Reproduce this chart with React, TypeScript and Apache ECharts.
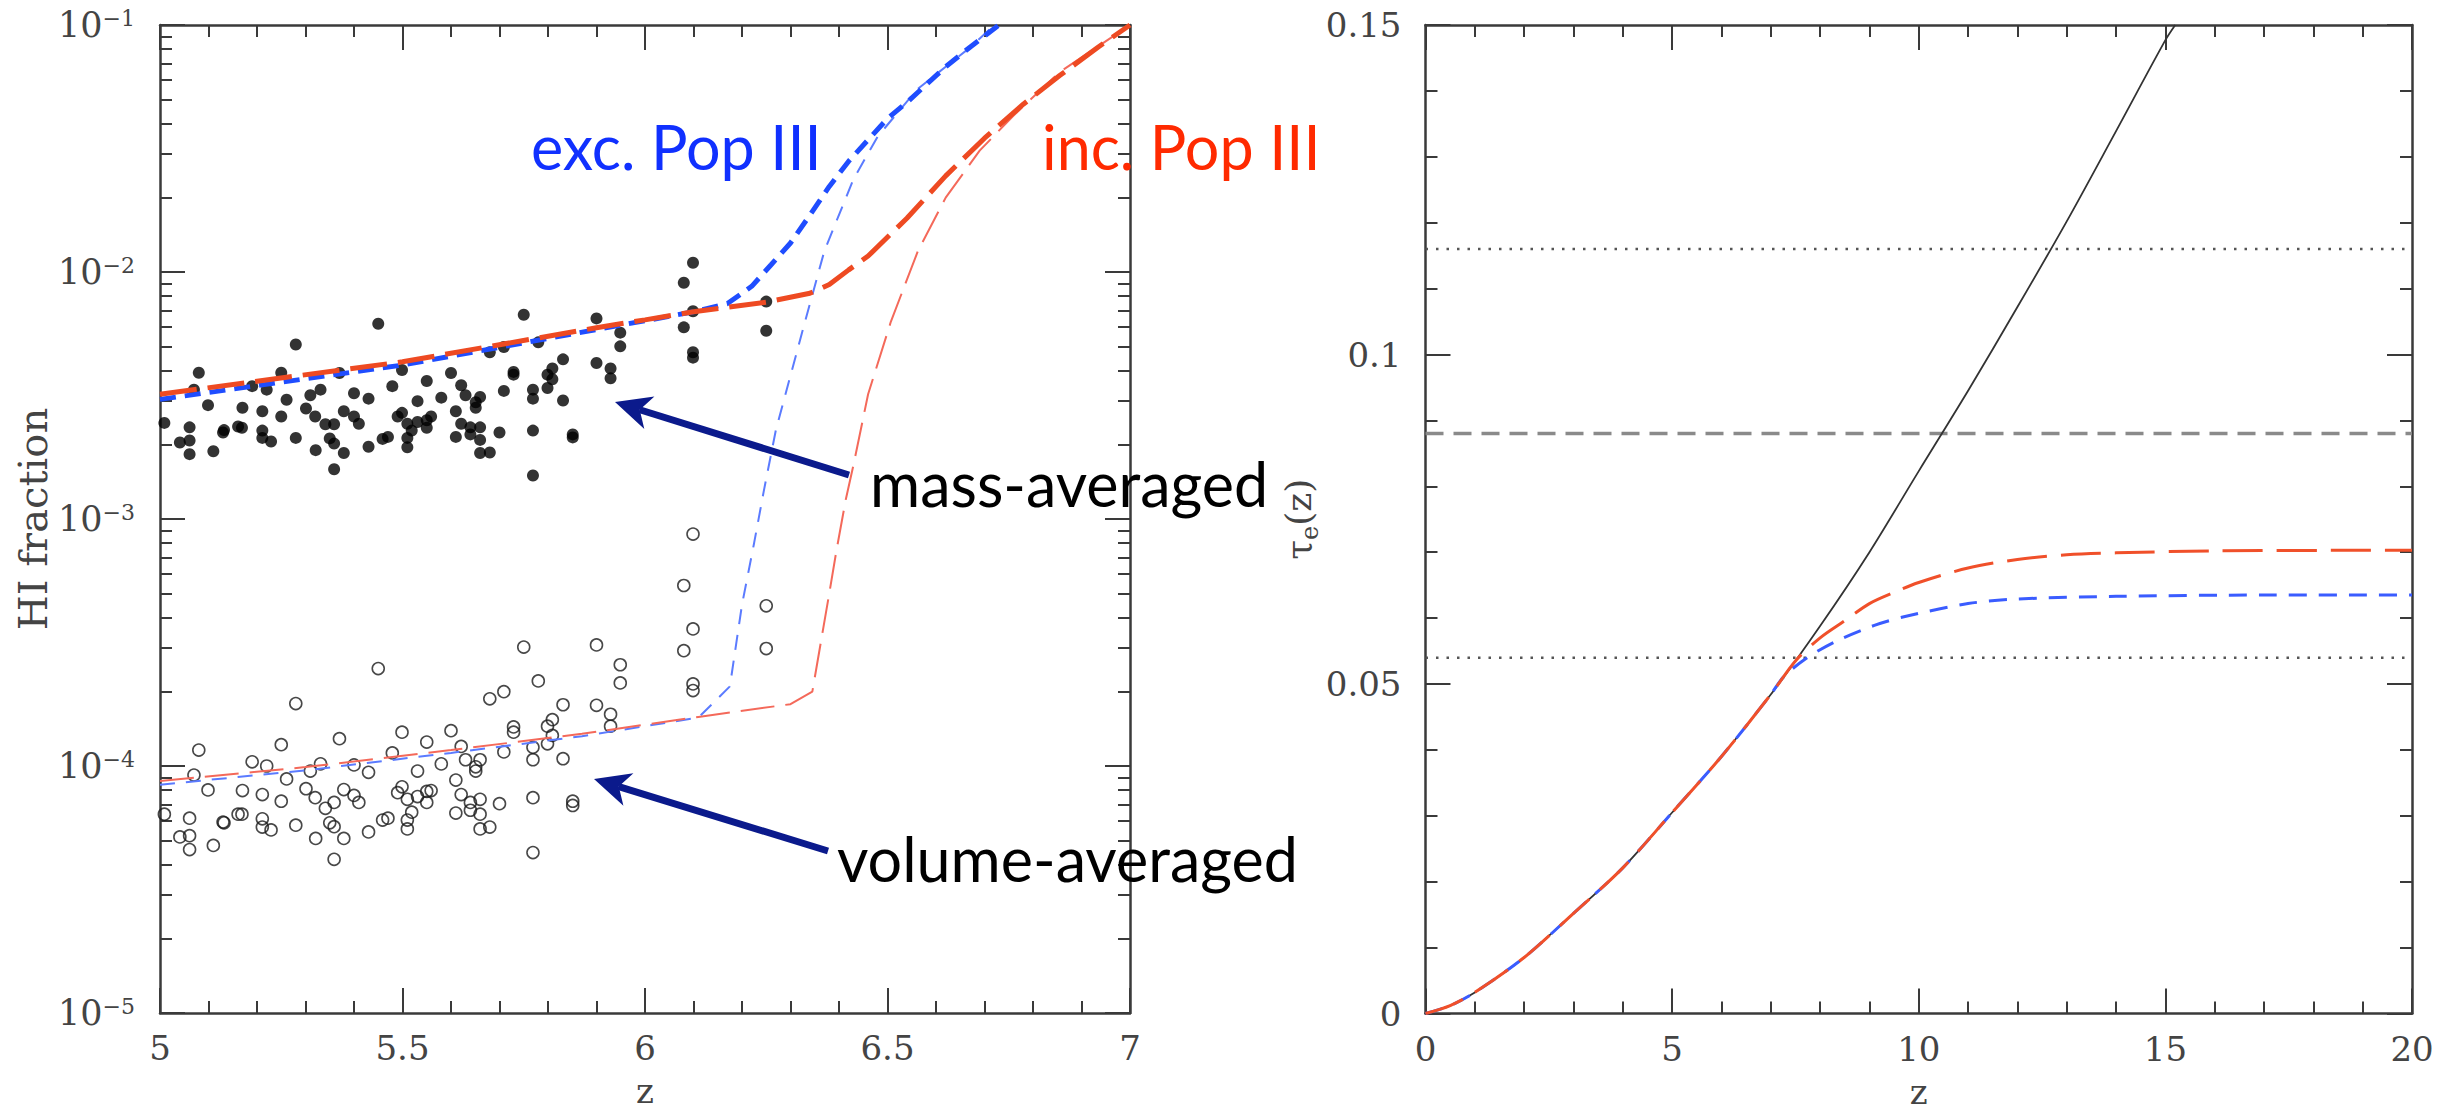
import React, { useEffect, useRef } from "react";
import * as echarts from "echarts";

// ---------------- Left panel: HI fraction vs z ----------------
const zSample = [
  5.009, 5.041, 5.061, 5.061, 5.061, 5.07, 5.08, 5.099, 5.11, 5.13,
  5.132, 5.161, 5.169, 5.17, 5.19, 5.211, 5.211, 5.211, 5.22, 5.229,
  5.25, 5.25, 5.261, 5.28, 5.28, 5.301, 5.31, 5.32, 5.321, 5.331,
  5.341, 5.35, 5.359, 5.359, 5.359, 5.37, 5.379, 5.379, 5.4, 5.4,
  5.41, 5.43, 5.43, 5.45, 5.459, 5.47, 5.479, 5.49, 5.499, 5.499,
  5.51, 5.51, 5.51, 5.519, 5.531, 5.531, 5.55, 5.55, 5.55, 5.559,
  5.58, 5.6, 5.61, 5.61, 5.621, 5.621, 5.63, 5.64, 5.64, 5.651,
  5.651, 5.66, 5.66, 5.66, 5.66, 5.68, 5.68, 5.7, 5.709, 5.709,
  5.729, 5.729, 5.75, 5.769, 5.769, 5.769, 5.769, 5.78, 5.799, 5.799,
  5.809, 5.809, 5.831, 5.831, 5.851, 5.851, 5.9, 5.9, 5.929, 5.929,
  5.949, 5.949, 6.08, 6.08, 6.099, 6.099, 6.099, 6.099, 6.25, 6.25,
];

const hiMassAvg = [
  2.45e-3, 2.04e-3, 2.35e-3, 2.08e-3, 1.83e-3, 3.34e-3, 3.91e-3, 2.89e-3, 1.88e-3, 2.24e-3,
  2.29e-3, 2.37e-3, 2.34e-3, 2.82e-3, 3.45e-3, 2.73e-3, 2.28e-3, 2.13e-3, 3.34e-3, 2.06e-3,
  3.91e-3, 2.6e-3, 3.04e-3, 5.09e-3, 2.13e-3, 2.8e-3, 3.17e-3, 2.6e-3, 1.9e-3, 3.34e-3,
  2.42e-3, 2.12e-3, 2.42e-3, 2.02e-3, 1.59e-3, 3.9e-3, 2.73e-3, 1.85e-3, 3.23e-3, 2.6e-3,
  2.43e-3, 3.07e-3, 1.96e-3, 6.17e-3, 2.11e-3, 2.15e-3, 3.45e-3, 2.6e-3, 4.01e-3, 2.69e-3,
  2.43e-3, 2.13e-3, 1.95e-3, 2.28e-3, 3.0e-3, 2.47e-3, 3.62e-3, 2.51e-3, 2.34e-3, 2.6e-3,
  3.1e-3, 3.9e-3, 2.73e-3, 2.15e-3, 3.48e-3, 2.43e-3, 3.17e-3, 2.35e-3, 2.2e-3, 2.97e-3,
  2.82e-3, 3.12e-3, 2.35e-3, 2.09e-3, 1.85e-3, 4.73e-3, 1.86e-3, 2.24e-3, 4.97e-3, 3.3e-3,
  3.94e-3, 3.84e-3, 6.71e-3, 3.34e-3, 3.07e-3, 2.28e-3, 1.5e-3, 5.19e-3, 3.84e-3, 3.39e-3,
  4.07e-3, 3.68e-3, 4.43e-3, 3.02e-3, 2.2e-3, 2.14e-3, 6.49e-3, 4.28e-3, 4.07e-3, 3.71e-3,
  5.68e-3, 5.0e-3, 9.05e-3, 5.97e-3, 1.09e-2, 6.94e-3, 4.73e-3, 4.5e-3, 7.59e-3, 5.78e-3,
];

const hiVolAvg = [
  6.38e-5, 5.16e-5, 6.15e-5, 5.22e-5, 4.59e-5, 9.19e-5, 1.16e-4, 8.0e-5, 4.77e-5, 5.93e-5,
  5.89e-5, 6.38e-5, 6.38e-5, 7.95e-5, 1.04e-4, 7.66e-5, 6.11e-5, 5.66e-5, 1.0e-4, 5.51e-5,
  1.22e-4, 7.2e-5, 8.86e-5, 1.79e-4, 5.76e-5, 8.09e-5, 9.54e-5, 7.44e-5, 5.09e-5, 1.02e-4,
  6.74e-5, 5.89e-5, 7.12e-5, 5.68e-5, 4.19e-5, 1.29e-4, 8.03e-5, 5.09e-5, 1.01e-4, 7.6e-5,
  7.12e-5, 9.43e-5, 5.41e-5, 2.48e-4, 6.04e-5, 6.15e-5, 1.13e-4, 7.8e-5, 1.37e-4, 8.24e-5,
  7.33e-5, 6.04e-5, 5.56e-5, 6.5e-5, 9.54e-5, 7.52e-5, 1.25e-4, 7.89e-5, 7.12e-5, 7.95e-5,
  1.02e-4, 1.39e-4, 8.77e-5, 6.45e-5, 1.2e-4, 7.66e-5, 1.06e-4, 7.12e-5, 6.62e-5, 9.92e-5,
  9.54e-5, 1.06e-4, 7.33e-5, 6.38e-5, 5.56e-5, 1.87e-4, 5.66e-5, 7.04e-5, 2.0e-4, 1.14e-4,
  1.44e-4, 1.37e-4, 3.03e-4, 1.19e-4, 1.06e-4, 7.44e-5, 4.46e-5, 2.21e-4, 1.45e-4, 1.23e-4,
  1.54e-4, 1.33e-4, 1.77e-4, 1.07e-4, 7.2e-5, 6.92e-5, 3.09e-4, 1.76e-4, 1.62e-4, 1.45e-4,
  2.57e-4, 2.17e-4, 5.38e-4, 2.93e-4, 8.69e-4, 3.59e-4, 2.15e-4, 2.02e-4, 4.45e-4, 2.99e-4,
];

// mass-averaged model, excluding Pop III (thick blue)
const massExcZ = [5.0, 5.5, 5.9, 6.0, 6.1, 6.17, 6.22, 6.26, 6.3, 6.34, 6.38, 6.42, 6.46, 6.5, 6.54, 6.58, 6.62, 6.67, 6.73];
const massExcHI = [3.05e-3, 4.2e-3, 5.85e-3, 6.35e-3, 6.9e-3, 7.45e-3, 8.75e-3, 1.07e-2, 1.31e-2, 1.7e-2, 2.22e-2, 2.81e-2, 3.43e-2, 4.18e-2, 4.86e-2, 5.74e-2, 6.78e-2, 8.13e-2, 0.1];
// mass-averaged model, including Pop III (thick red)
const massIncZ = [5.0, 5.5, 5.9, 6.0, 6.1, 6.25, 6.34, 6.38, 6.42, 6.46, 6.54, 6.62, 6.7, 6.78, 6.855, 6.934, 7.0];
const massIncHI = [3.2e-3, 4.33e-3, 5.95e-3, 6.4e-3, 6.9e-3, 7.55e-3, 8.2e-3, 8.9e-3, 1.02e-2, 1.16e-2, 1.65e-2, 2.45e-2, 3.48e-2, 4.78e-2, 6.24e-2, 8.13e-2, 0.1];
// volume-averaged model, excluding Pop III (thin blue)
const volExcZ = [5.0, 5.3, 5.6, 5.87, 6.11, 6.175, 6.2, 6.225, 6.245, 6.27, 6.33, 6.37, 6.43, 6.48, 6.56, 6.62, 6.67, 6.72];
const volExcHI = [8.4e-5, 9.6e-5, 1.13e-4, 1.32e-4, 1.57e-4, 2.1e-4, 4.5e-4, 8.0e-4, 1.3e-3, 2.3e-3, 6.3e-3, 1.22e-2, 2.38e-2, 3.54e-2, 5.46e-2, 6.78e-2, 8.1e-2, 0.1];
// volume-averaged model, including Pop III (thin red)
const volIncZ = [5.0, 5.3, 5.6, 5.87, 6.11, 6.3, 6.345, 6.378, 6.395, 6.414, 6.43, 6.46, 6.507, 6.563, 6.62, 6.69, 6.76, 6.855, 7.0];
const volIncHI = [8.7e-5, 9.9e-5, 1.16e-4, 1.35e-4, 1.58e-4, 1.78e-4, 2.0e-4, 4.75e-4, 7.5e-4, 1.2e-3, 1.66e-3, 3.2e-3, 6.3e-3, 1.22e-2, 2.0e-2, 3.1e-2, 4.3e-2, 6.45e-2, 0.1];

const xTicksLeft = [5, 7, 0.5];
const yTicksLeft = [1e-5, 1e-1];

// ---------------- Right panel: tau_e(z) ----------------
const tauFullZ = [0, 0.5, 1, 2, 3, 4, 5, 6, 7, 8, 9, 10, 11, 12, 13, 14, 15, 15.2];
const tauFull = [0, 0.0012, 0.0032, 0.0085, 0.0152, 0.0221, 0.0305, 0.039, 0.0484, 0.0588, 0.07, 0.0823, 0.0945, 0.1072, 0.1202, 0.1339, 0.1477, 0.15];
const tauIncZ = [0, 0.5, 1, 2, 3, 4, 5, 6, 7, 7.5, 8, 8.5, 9, 9.5, 10, 11, 12, 13, 14, 16, 20];
const tauInc = [0, 0.0012, 0.0032, 0.0085, 0.0152, 0.0221, 0.0305, 0.039, 0.0484, 0.0535, 0.057, 0.0596, 0.0622, 0.0639, 0.0654, 0.0676, 0.0689, 0.0696, 0.0699, 0.0702, 0.0703];
const tauExcZ = [0, 0.5, 1, 2, 3, 4, 5, 6, 7, 7.25, 7.7, 8.3, 9.1, 9.7, 11, 12, 14, 17, 20];
const tauExc = [0, 0.0012, 0.0032, 0.0085, 0.0152, 0.0221, 0.0305, 0.039, 0.0484, 0.051, 0.0538, 0.0564, 0.0589, 0.0602, 0.0622, 0.0629, 0.0633, 0.0635, 0.0635];
const tauDottedLevels = [0.054, 0.116];
const tauDashedLevels = [0.088];
const xTicksRight = [0, 20, 5];
const yTicksRight = [0, 0.15, 0.05];

// ---------------- Annotations ----------------
const annotations = [
  { text: "exc. Pop III", color: "#1030ff", x: 531, y: 146 },
  { text: "inc. Pop III", color: "#ff2a00", x: 1042, y: 146 },
  { text: "mass-averaged", color: "#000000", x: 870, y: 483 },
  { text: "volume-averaged", color: "#000000", x: 837, y: 858 },
];
const arrows = [
  { tail: [849, 475], tip: [615, 402] },
  { tail: [828, 851], tip: [594, 779] },
];

// ---------------- styles ----------------
const AX = "#3a3a3a";
const LBL = "#444";
const SERIF = "DejaVu Serif";
const NAVY = "#0b1a8c";

const zip = (xs: number[], ys: number[]) => xs.map((x, i) => [x, ys[i]]);

function xAxes(gridIndex: number, ticks: number[], name: string) {
  const common: any = {
    type: "value",
    gridIndex,
    min: ticks[0],
    max: ticks[1],
    interval: ticks[2],
    axisLine: { show: true, onZero: false, lineStyle: { color: AX, width: 2.5 } },
    axisTick: { show: true, inside: true, length: 25, lineStyle: { color: AX, width: 2 } },
    minorTick: { show: true, splitNumber: 5, length: 12, lineStyle: { color: AX, width: 2 } },
    splitLine: { show: false },
    minorSplitLine: { show: false },
  };
  return [
    {
      ...common,
      position: "bottom",
      name,
      nameLocation: "middle",
      nameGap: 64,
      nameTextStyle: { fontFamily: SERIF, fontSize: 34, lineHeight: 28, color: LBL },
      axisLabel: { show: true, margin: 18, fontFamily: SERIF, fontSize: 34, color: LBL },
    },
    { ...common, position: "top", axisLabel: { show: false } },
  ];
}

function arrowGraphic(tail: number[], tip: number[]) {
  const dx = tip[0] - tail[0];
  const dy = tip[1] - tail[1];
  const L = Math.hypot(dx, dy);
  const ux = dx / L;
  const uy = dy / L;
  const px = -uy;
  const py = ux;
  const headLen = 36;
  const half = 17;
  const bx = tip[0] - ux * headLen;
  const by = tip[1] - uy * headLen;
  const nx = tip[0] - ux * headLen * 0.72;
  const ny = tip[1] - uy * headLen * 0.72;
  return {
    type: "group",
    z: 100,
    children: [
      {
        type: "line",
        shape: { x1: tail[0], y1: tail[1], x2: nx, y2: ny },
        style: { stroke: NAVY, lineWidth: 7 },
      },
      {
        type: "polygon",
        shape: {
          points: [
            [tip[0], tip[1]],
            [bx + px * half, by + py * half],
            [nx, ny],
            [bx - px * half, by - py * half],
          ],
        },
        style: { fill: NAVY },
      },
    ],
  };
}

export default function App() {
  const ref = useRef<HTMLDivElement>(null);
  useEffect(() => {
    const chart = echarts.init(ref.current!, null, { renderer: "svg" });
    const option: any = {
      animation: false,
      backgroundColor: "#ffffff",
      grid: [
        { left: 160, top: 25, width: 970, height: 988, containLabel: false, outerBoundsMode: "none" },
        { left: 1425.5, top: 25, width: 986.5, height: 988.5, containLabel: false, outerBoundsMode: "none" },
      ],
      xAxis: [...xAxes(0, xTicksLeft, "z"), ...xAxes(1, xTicksRight, "z")],
      yAxis: [
        {
          type: "log",
          logBase: 10,
          gridIndex: 0,
          min: yTicksLeft[0],
          max: yTicksLeft[1],
          position: "left",
          name: "HI fraction",
          nameLocation: "middle",
          nameGap: 107,
          nameTextStyle: { fontFamily: SERIF, fontSize: 40, color: LBL },
          axisLine: { show: true, onZero: false, lineStyle: { color: AX, width: 2.5 } },
          axisTick: { show: true, inside: true, length: 25, lineStyle: { color: AX, width: 2 } },
          minorTick: { show: true, splitNumber: 9, length: 12, lineStyle: { color: AX, width: 2 } },
          splitLine: { show: false },
          minorSplitLine: { show: false },
          axisLabel: {
            show: true,
            margin: 25,
            formatter: (v: number) => {
              const e = Math.round(Math.log10(v));
              return `{b|10}{s|\u2212${-e}}`;
            },
            rich: {
              b: { fontFamily: SERIF, fontSize: 35, color: LBL, lineHeight: 36 },
              s: { fontFamily: SERIF, fontSize: 22, color: LBL, lineHeight: 28, verticalAlign: "top" },
            },
          },
        },
        {
          type: "log",
          logBase: 10,
          gridIndex: 0,
          min: yTicksLeft[0],
          max: yTicksLeft[1],
          position: "right",
          axisLine: { show: true, onZero: false, lineStyle: { color: AX, width: 2.5 } },
          axisTick: { show: true, inside: true, length: 25, lineStyle: { color: AX, width: 2 } },
          minorTick: { show: true, splitNumber: 9, length: 12, lineStyle: { color: AX, width: 2 } },
          splitLine: { show: false },
          minorSplitLine: { show: false },
          axisLabel: { show: false },
        },
        {
          type: "value",
          gridIndex: 1,
          min: yTicksRight[0],
          max: yTicksRight[1],
          interval: yTicksRight[2],
          position: "left",
          name: "{t|\u03c4}{s|e}{t|(z)}",
          nameLocation: "middle",
          nameGap: 76,
          nameTextStyle: {
            rich: {
              t: { fontFamily: SERIF, fontSize: 36, color: LBL, lineHeight: 46 },
              s: { fontFamily: SERIF, fontSize: 24, color: LBL, lineHeight: 18, verticalAlign: "bottom" },
            },
          },
          axisLine: { show: true, onZero: false, lineStyle: { color: AX, width: 2.5 } },
          axisTick: { show: true, inside: true, length: 25, lineStyle: { color: AX, width: 2 } },
          minorTick: { show: true, splitNumber: 5, length: 12, lineStyle: { color: AX, width: 2 } },
          splitLine: { show: false },
          minorSplitLine: { show: false },
          axisLabel: { show: true, margin: 24, fontFamily: SERIF, fontSize: 34, color: LBL },
        },
        {
          type: "value",
          gridIndex: 1,
          min: yTicksRight[0],
          max: yTicksRight[1],
          interval: yTicksRight[2],
          position: "right",
          axisLine: { show: true, onZero: false, lineStyle: { color: AX, width: 2.5 } },
          axisTick: { show: true, inside: true, length: 25, lineStyle: { color: AX, width: 2 } },
          minorTick: { show: true, splitNumber: 5, length: 12, lineStyle: { color: AX, width: 2 } },
          splitLine: { show: false },
          minorSplitLine: { show: false },
          axisLabel: { show: false },
        },
      ],
      series: [
        // left panel points
        {
          type: "scatter",
          name: "mass-averaged sightlines",
          xAxisIndex: 0,
          yAxisIndex: 0,
          data: zip(zSample, hiMassAvg),
          symbol: "circle",
          symbolSize: 12,
          itemStyle: { color: "#000" },
          z: 2,
        },
        {
          type: "scatter",
          name: "volume-averaged sightlines",
          xAxisIndex: 0,
          yAxisIndex: 0,
          data: zip(zSample, hiVolAvg),
          symbol: "circle",
          symbolSize: 12,
          itemStyle: { color: "rgba(0,0,0,0)", borderColor: "#1a1a1a", borderWidth: 1.6 },
          z: 2,
        },
        // left panel models
        {
          type: "line",
          name: "volume exc. Pop III",
          xAxisIndex: 0,
          yAxisIndex: 0,
          data: zip(volExcZ, volExcHI),
          symbol: "none",
          lineStyle: { color: "#5b7bff", width: 2, type: [15, 11] },
          z: 3,
        },
        {
          type: "line",
          name: "volume inc. Pop III",
          xAxisIndex: 0,
          yAxisIndex: 0,
          data: zip(volIncZ, volIncHI),
          symbol: "none",
          lineStyle: { color: "#f4695a", width: 2, type: [34, 11] },
          z: 3,
        },
        {
          type: "line",
          name: "mass exc. Pop III",
          xAxisIndex: 0,
          yAxisIndex: 0,
          data: zip(massExcZ, massExcHI),
          symbol: "none",
          lineStyle: { color: "#1f4dff", width: 5, type: [16, 9] },
          z: 4,
        },
        {
          type: "line",
          name: "mass inc. Pop III",
          xAxisIndex: 0,
          yAxisIndex: 0,
          data: zip(massIncZ, massIncHI),
          symbol: "none",
          lineStyle: { color: "#ee4a22", width: 5, type: [37, 11] },
          z: 4,
        },
        // right panel
        ...tauDottedLevels.map((v) => ({
          type: "line",
          name: "WMAP bound",
          xAxisIndex: 2,
          yAxisIndex: 2,
          data: [
            [xTicksRight[0], v],
            [xTicksRight[1], v],
          ],
          symbol: "none",
          lineStyle: { color: "#555", width: 2.5, type: [2.5, 8] },
          z: 2,
        })),
        ...tauDashedLevels.map((v) => ({
          type: "line",
          name: "WMAP central",
          xAxisIndex: 2,
          yAxisIndex: 2,
          data: [
            [xTicksRight[0], v],
            [xTicksRight[1], v],
          ],
          symbol: "none",
          lineStyle: { color: "#8a8a8a", width: 3.5, type: [18, 10] },
          z: 2,
        })),
        {
          type: "line",
          name: "fully ionized",
          xAxisIndex: 2,
          yAxisIndex: 2,
          data: zip(tauFullZ, tauFull),
          symbol: "none",
          smooth: 0.3,
          lineStyle: { color: "#333", width: 1.8, type: "solid" },
          z: 3,
        },
        {
          type: "line",
          name: "tau exc. Pop III",
          xAxisIndex: 2,
          yAxisIndex: 2,
          data: zip(tauExcZ, tauExc),
          symbol: "none",
          smooth: 0.3,
          lineStyle: { color: "#3a5cff", width: 3, type: [18, 12] },
          z: 4,
        },
        {
          type: "line",
          name: "tau inc. Pop III",
          xAxisIndex: 2,
          yAxisIndex: 2,
          data: zip(tauIncZ, tauInc),
          symbol: "none",
          smooth: 0.3,
          lineStyle: { color: "#f0502a", width: 3, type: [40, 14] },
          z: 5,
        },
      ],
      graphic: [
        ...annotations.map((a) => ({
          type: "text",
          x: a.x,
          y: a.y,
          z: 100,
          style: {
            text: a.text,
            fill: a.color,
            font: "61px Lato",
            textAlign: "left",
            textVerticalAlign: "middle",
            verticalAlign: "middle",
          },
        })),
        ...arrows.map((a) => arrowGraphic(a.tail, a.tip)),
      ],
    };
    chart.setOption(option);
    return () => chart.dispose();
  }, []);
  return (
    <div
      ref={ref}
      style={{ position: "absolute", left: 0, top: 0, width: 2458, height: 1115, background: "#fff" }}
    />
  );
}
